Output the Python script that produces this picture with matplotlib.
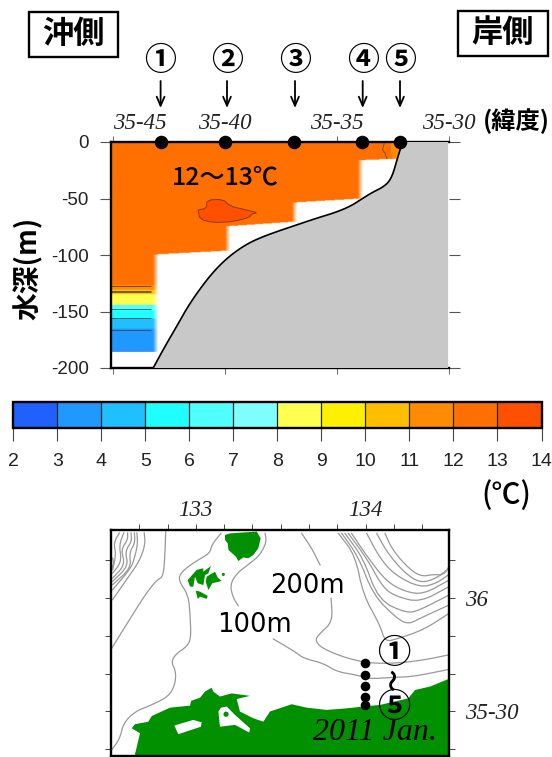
import numpy as np
import matplotlib
matplotlib.use("Agg")
import matplotlib.pyplot as plt
from matplotlib.colors import ListedColormap, BoundaryNorm
from matplotlib.colorbar import ColorbarBase
from matplotlib.patches import Rectangle

plt.rcParams['font.family'] = ['Liberation Sans', 'Noto Sans CJK JP', 'DejaVu Sans']
CJK = ['Noto Sans CJK JP', 'DejaVu Sans']
W, H = 552, 757

# ---------- colour scale ----------
temp_bounds = list(range(2, 15))
temp_colors = ['#2060FF', '#2099FF', '#20BFFF', '#20FFFF', '#50FFFF', '#80FFFF',
               '#FFFF50', '#FFF000', '#FFBF00', '#FF8C00', '#FF7000', '#FF5000']

# ---------- section data (latitude minutes north of 35 deg, depth m) ----------
station_lat = [42.86, 40.0, 36.9, 33.9, 32.2]
station_names = ['①', '②', '③', '④', '⑤']
section_ticks = [45, 40, 35, 30]
section_ticklabels = ['35-45', '35-40', '35-35', '35-30']
depth_ticks = [0, -50, -100, -150, -200]

bottom_lat = [43.19, 42.67, 42.15, 41.56, 40.81, 40.22, 39.63, 38.96, 38.30, 37.56, 36.81,
              35.93, 35.04, 34.37, 33.85, 33.41, 32.96, 32.67, 32.49, 32.30, 32.07]
bottom_depth = [-200, -181.1, -163.4, -142.8, -122.1, -108.8, -98.5, -89.7, -83.8, -78.5, -73.5,
                -67.6, -62.2, -56.6, -49.9, -44.5, -40.1, -35.1, -27.7, -14.5, 0]

# sampled columns: right edge latitude, sample floor at left and right of the column
column_edge = [42.98, 39.78, 36.8, 33.87, 31.9]
column_floor_left = [-186, -100, -75, -54, -16.6]
column_floor_right = [-186, -96.6, -71, -50.5, -15]

layer_top = [0, -127.5, -131.5, -135.5, -145, -150, -157, -166]
layer_bottom = [-127.5, -131.5, -135.5, -145, -150, -157, -166, -186]
layer_temp = [12.5, 11.5, 10.5, 8.5, 6.5, 5.5, 4.5, 3.5]
thermo_lines = [-127.5, -131.5, -133, -148, -156, -166]

warm_lat = [41.19, 40.81, 40.79, 40.07, 39.78, 39.04, 38.52, 38.81, 38.89, 39.63, 40.52, 41.11]
warm_depth = [-60.2, -58.7, -51.3, -50.7, -56.6, -60.2, -62.5, -63.7, -66.7, -70.5, -71.4, -68.4]
coast_patch_lat = [32.6, 32.55, 32.3, 32.15]
coast_patch_depth = [-1, -14.5, -14.5, -1]
coast_iso_lat = [32.89, 32.96, 32.85, 32.77]
coast_iso_depth = [-1, -7, -10, -14.5]

# ---------- map data (lon, lat) ----------
land_lon = [132.638, 132.671, 132.622, 132.641, 132.720, 132.740, 132.848, 132.966, 132.972, 133.025,
            133.054, 133.093, 133.103, 133.142, 133.211, 133.319, 133.241, 133.260, 133.339, 133.398,
            133.437, 133.565, 133.653, 133.771, 133.889, 133.987, 134.085, 134.252, 134.292, 134.380,
            134.50, 134.50]
land_lat = [35.30, 35.403, 35.425, 35.443, 35.454, 35.479, 35.516, 35.525, 35.546, 35.560,
            35.587, 35.604, 35.587, 35.565, 35.579, 35.568, 35.554, 35.499, 35.469, 35.454,
            35.499, 35.531, 35.516, 35.506, 35.513, 35.521, 35.528, 35.557, 35.594, 35.609,
            35.646, 35.30]
lake1_lon = [132.873, 132.985, 133.034, 133.030, 132.897]
lake1_lat = [35.437, 35.462, 35.451, 35.432, 35.399]
lake2_lon = [133.133, 133.148, 133.182, 133.231, 133.319, 133.315, 133.231, 133.142]
lake2_lat = [35.499, 35.516, 35.521, 35.484, 35.425, 35.406, 35.440, 35.432]
islet_lon = [133.178, 133.162]
islet_lat = [35.487, 36.104]
oki1_lon = [133.172, 133.201, 133.359, 133.382, 133.368, 133.339, 133.309, 133.280, 133.250, 133.237, 133.192, 133.188, 133.172]
oki1_lat = [36.278, 36.285, 36.293, 36.263, 36.219, 36.190, 36.175, 36.179, 36.163, 36.182, 36.212, 36.241, 36.256]
oki2_lon = [132.952, 133.005, 133.044, 133.044, 133.089, 133.074, 133.054, 133.044, 133.011, 132.995, 132.985, 132.966]
oki2_lat = [36.079, 36.124, 36.131, 36.116, 36.141, 36.109, 36.101, 36.057, 36.065, 36.094, 36.050, 36.050]
oki3_lon = [133.064, 133.113, 133.129, 133.152, 133.097, 133.074, 133.058]
oki3_lat = [36.094, 36.116, 36.090, 36.075, 36.065, 36.035, 36.072]
oki4_lon = [132.999, 133.025, 133.070, 133.064, 133.025, 133.011]
oki4_lat = [36.032, 36.028, 36.009, 35.996, 36.006, 35.996]

iso_a = ([132.822, 132.818, 132.808, 132.769, 132.700, 132.602, 132.504],
         [36.293, 36.190, 36.094, 36.079, 36.013, 35.896, 35.778])
iso_b = ([133.148, 133.093, 133.083, 132.995, 132.916, 132.896, 132.956, 132.966, 132.972, 132.946, 132.887,
          132.854, 132.883, 132.877, 132.838, 132.740, 132.641, 132.573, 132.553, 132.504],
         [36.285, 36.234, 36.197, 36.160, 36.116, 36.079, 36.013, 35.925, 35.822, 35.785, 35.756,
          35.719, 35.675, 35.616, 35.565, 35.528, 35.499, 35.447, 35.381, 35.329])
iso_c1 = ([133.408, 133.417, 133.378, 133.319, 133.241, 133.201, 133.221, 133.250],
          [36.285, 36.248, 36.190, 36.153, 36.109, 36.057, 35.999, 35.966])
iso_c2 = ([133.457, 133.584, 133.634, 133.751, 133.830, 133.948, 134.026, 134.144, 134.282, 134.492],
          [35.819, 35.763, 35.734, 35.712, 35.675, 35.660, 35.643, 35.649, 35.653, 35.685])
iso_d1 = ([133.624, 133.683, 133.732], [36.285, 36.219, 36.146])
iso_d2 = ([133.797, 133.806, 133.732, 133.702, 133.742, 133.889, 134.026, 134.184, 134.341, 134.492],
          [35.999, 35.896, 35.844, 35.815, 35.778, 35.734, 35.712, 35.712, 35.726, 35.749])
iso_l1 = ([133.840, 133.938, 133.987, 134.085, 134.115, 134.184, 134.341, 134.492],
          [36.285, 36.190, 36.013, 35.881, 35.807, 35.819, 35.859, 35.932])
iso_l2 = ([133.860, 133.958, 134.046, 134.184, 134.252, 134.321, 134.492],
          [36.285, 36.182, 36.013, 35.910, 35.884, 35.910, 35.969])
iso_l3 = ([133.879, 133.987, 134.076, 134.243, 134.321, 134.492],
          [36.285, 36.175, 35.991, 35.932, 35.947, 36.013])
iso_l4 = ([133.899, 134.007, 134.105, 134.184, 134.321, 134.492],
          [36.285, 36.175, 36.043, 36.006, 35.981, 36.050])
iso_l5 = ([133.918, 134.017, 134.125, 134.233, 134.341, 134.492],
          [36.285, 36.175, 36.072, 36.028, 36.016, 36.079])
iso_l6 = ([134.007, 134.085, 134.174, 134.321, 134.419, 134.492],
          [36.285, 36.175, 36.101, 36.046, 36.065, 36.104])
iso_l7 = ([134.066, 134.125, 134.223, 134.321, 134.419, 134.492],
          [36.285, 36.204, 36.116, 36.065, 36.087, 36.131])
iso_l8 = ([134.115, 134.154, 134.233, 134.321, 134.400, 134.459, 134.492],
          [36.285, 36.219, 36.146, 36.094, 36.104, 36.101, 36.138])
iso_w1 = ([132.696, 132.702, 132.667, 132.598, 132.510], [36.287, 36.235, 36.162, 36.088, 35.993])
iso_w2 = ([132.653, 132.657, 132.638, 132.618, 132.510], [36.287, 36.235, 36.176, 36.132, 36.037])
iso_w3 = ([132.638, 132.641, 132.608, 132.618, 132.510], [36.287, 36.243, 36.199, 36.132, 36.059])
iso_w4 = ([132.618, 132.622, 132.583, 132.602, 132.510], [36.287, 36.250, 36.206, 36.140, 36.074])
iso_w5 = ([132.598, 132.598, 132.559, 132.583, 132.510], [36.287, 36.257, 36.213, 36.147, 36.088])
iso_w6 = ([132.575, 132.549, 132.559, 132.549, 132.510], [36.287, 36.235, 36.176, 36.147, 36.110])
iso_w7 = ([132.549, 132.516, 132.529, 132.510], [36.287, 36.243, 36.191, 36.125])
iso_w8 = ([132.510, 132.516, 132.506], [36.176, 36.154, 36.132])
isobaths = [iso_a, iso_b, iso_c1, iso_c2, iso_d1, iso_d2, iso_l1, iso_l2, iso_l3, iso_l4, iso_l5, iso_l6,
            iso_l7, iso_l8, iso_w1, iso_w2, iso_w3, iso_w4, iso_w5, iso_w6, iso_w7, iso_w8]

map_station_lon = [133.995] * 5
map_station_lat = [35.712, 35.660, 35.612, 35.562, 35.528]
map_lon_ticks = [132.6667 + i / 6 for i in range(11)]
map_lat_ticks = [35.3333 + i / 6 for i in range(6)]

# ---------- helpers ----------
def axes_px(left, top, right, bottom, **kw):
    return fig.add_axes([left / W, 1 - bottom / H, (right - left) / W, (bottom - top) / H], **kw)

def rounded(xs, ys, passes=2):
    p = np.column_stack([xs, ys])
    for _ in range(passes):
        q = 0.75 * p[:-1] + 0.25 * p[1:]
        r = 0.25 * p[:-1] + 0.75 * p[1:]
        mid = np.empty((2 * len(q), 2))
        mid[0::2] = q
        mid[1::2] = r
        p = np.vstack([p[0], mid, p[-1]])
    return p[:, 0], p[:, 1]

fig = plt.figure(figsize=(W / 100, H / 100), dpi=100)
cmap = ListedColormap(temp_colors)
norm = BoundaryNorm(temp_bounds, cmap.N)
INK = '#222222'
GREEN = '#009000'

# ---------- section ----------
ax = axes_px(111, 142, 449, 368)
ax.set_xlim(45.07, 30.04)
ax.set_ylim(-200, 0)

lat_grid = np.arange(45.07, 31.9, -0.02)
dep_grid = np.arange(0, -200, -0.5)
LON, DEP = np.meshgrid(lat_grid, dep_grid)
rgba = np.ones(LON.shape + (4,))
base = np.zeros(LON.shape)
for top_d, bot_d, t in zip(layer_top, layer_bottom, layer_temp):
    base[(DEP <= top_d) & (DEP > bot_d)] = t
rgba[..., :3] = cmap(norm(base))[..., :3]
alpha = np.zeros(LON.shape)
fade = 0.22
left = 45.07
for edge, fl, fr in zip(column_edge, column_floor_left, column_floor_right):
    floor = fl + (fr - fl) * (left - LON) / (left - edge)
    a = np.clip((LON - edge) / fade, 0, 1)
    a[LON > left + fade] = 0
    a[DEP < floor] = 0
    alpha = np.maximum(alpha, a)
    left = edge
rgba[..., 3] = alpha
ax.imshow(rgba, extent=[lat_grid[0], lat_grid[-1], dep_grid[-1], dep_grid[0]], origin='upper',
          aspect='auto', interpolation='bilinear', zorder=1)
ax.set_xlim(45.07, 30.04)
ax.set_ylim(-200, 0)

ax.hlines(thermo_lines, 45.07, 43.3, color='#333333', lw=0.7, alpha=0.7, zorder=2)
ax.fill(*rounded(warm_lat + warm_lat[:1], warm_depth + warm_depth[:1], 1),
        facecolor=cmap(norm(13.5)), edgecolor='#8a3a10', lw=0.7, zorder=2)
ax.fill(coast_patch_lat, coast_patch_depth, facecolor=cmap(norm(11.5)), edgecolor='none', zorder=2)
ax.plot(coast_iso_lat, coast_iso_depth, color='#8a4a10', lw=0.7, zorder=2)

line_lat, line_dep = rounded(bottom_lat, bottom_depth)
ax.fill(list(line_lat) + [30.04, 30.04], list(line_dep) + [0, -200], facecolor='#C8C8C8', edgecolor='none', zorder=3)
ax.plot(line_lat, line_dep, color='black', lw=1.2, zorder=4)
ax.scatter(station_lat, [0] * 5, s=95, color='black', zorder=6, clip_on=False, linewidths=0)

ax.spines['right'].set_visible(False)
for s in ('left', 'top', 'bottom'):
    ax.spines[s].set_linewidth(1.7)
ax.set_xticks(section_ticks)
ax.set_xticklabels(section_ticklabels, family='Liberation Serif', style='italic', fontsize=16.5, color=INK)
ax.tick_params(axis='x', which='both', top=True, bottom=True, labeltop=True, labelbottom=False,
               length=4.5, width=0.6, color='#555555', pad=1.5)
ax.xaxis.get_major_ticks()[0].label2.set_ha('left')
ax.set_yticks(depth_ticks)
ax.set_yticklabels([str(d) for d in depth_ticks], fontsize=13.5, color=INK)
ax.tick_params(axis='y', which='both', left=True, right=True, length=8, width=0.8, color='#555555', pad=8)

# ---------- colour bar ----------
cax = axes_px(13.4, 401.7, 541.5, 428.3)
cb = ColorbarBase(cax, cmap=cmap, norm=norm, orientation='horizontal', ticks=temp_bounds,
                  spacing='proportional', drawedges=True)
cb.outline.set_linewidth(1.7)
cb.dividers.set_linewidth(0.9)
cb.dividers.set_color('#222222')
cax.tick_params(axis='x', length=9, width=0.8, color='#444444', labelsize=14, labelcolor=INK, pad=9)

# ---------- map ----------
mp = axes_px(111, 530, 449, 755.7)
mp.set_xlim(132.5, 134.492)
mp.set_ylim(35.304, 36.30)
for lon, lat in isobaths:
    mp.plot(*rounded(lon, lat), color='#999999', lw=0.9, zorder=1)
for lon, lat in [(land_lon, land_lat), (oki1_lon, oki1_lat), (oki2_lon, oki2_lat),
                 (oki3_lon, oki3_lat), (oki4_lon, oki4_lat)]:
    mp.fill(lon, lat, color=GREEN, lw=0, zorder=2)
for lon, lat in [(lake1_lon, lake1_lat), (lake2_lon, lake2_lat)]:
    mp.fill(lon, lat, color='white', lw=0, zorder=3)
mp.scatter(islet_lon, islet_lat, s=[14, 5], color=GREEN, linewidths=0, zorder=4)
mp.scatter(map_station_lon, map_station_lat, s=48, color='black', linewidths=0, zorder=5)
for s in mp.spines.values():
    s.set_linewidth(1.7)
mp.set_xticks(map_lon_ticks)
mp.set_xticklabels(['133' if abs(v - 133) < .01 else '134' if abs(v - 134) < .01 else '' for v in map_lon_ticks],
                   family='Liberation Serif', style='italic', fontsize=16.5, color=INK)
mp.tick_params(axis='x', top=True, bottom=False, labeltop=True, labelbottom=False, length=4.5, width=0.7,
               color='#444444', pad=2)
mp.set_yticks(map_lat_ticks)
mp.set_yticklabels(['36' if abs(v - 36) < .01 else '35-30' if abs(v - 35.5) < .01 else '' for v in map_lat_ticks],
                   family='Liberation Serif', style='italic', fontsize=16.5, color=INK)
mp.tick_params(axis='y', left=True, right=True, labelleft=False, labelright=True, length=4.5, width=0.7,
               color='#444444', pad=7)

# ---------- annotations in figure pixels ----------
ov = fig.add_axes([0, 0, 1, 1], zorder=10)
ov.set_xlim(0, W)
ov.set_ylim(H, 0)
ov.axis('off')
ov.patch.set_alpha(0)

for x0, y0, x1, y1, label in [(29, 11.5, 118, 57, '沖側'), (458, 10.5, 548, 56, '岸側')]:
    ov.add_patch(Rectangle((x0, y0), x1 - x0, y1 - y0, fill=False, ec='black', lw=1.7))
    ov.text((x0 + x1) / 2, (y0 + y1) / 2 - 0.5, label, ha='center', va='center', fontsize=22.5,
            family=CJK, weight='bold', color='black')

for px, name in zip([160.6, 227, 295, 362.7, 400], station_names):
    ov.text(px, 61, name, ha='center', va='center', fontsize=23, family=CJK, weight='bold', color='black')
    ov.annotate('', xy=(px, 108), xytext=(px, 81),
                arrowprops=dict(arrowstyle='->,head_width=0.28,head_length=0.65', color='black', lw=1.3,
                                shrinkA=0, shrinkB=0))

ov.text(483, 121, '(緯度)', ha='left', va='center', fontsize=17.5, family=CJK, weight='bold', color='black',
        clip_on=True)
ov.text(28, 268, '水深(m)', rotation=90, ha='center', va='center', fontsize=20, family=CJK, weight='bold',
        color='black')
ov.text(225.5, 177, '12〜13℃', ha='center', va='center', fontsize=18, family=CJK, weight='medium', color='black')
ov.text(506, 495, '(℃)', ha='center', va='center', fontsize=21, family=CJK, weight='medium', color='black')
ov.text(307, 586, '200m', ha='center', va='center', fontsize=18.5, family='DejaVu Sans', color='black')
ov.text(254.5, 625, '100m', ha='center', va='center', fontsize=18.5, family='DejaVu Sans', color='black')
ov.text(394, 654, '①', ha='center', va='center', fontsize=24, family=CJK, weight='bold', color='black')
ov.text(394, 708, '⑤', ha='center', va='center', fontsize=24, family=CJK, weight='bold', color='black')
ov.text(395, 680, '〜', rotation=90, ha='center', va='center', fontsize=16, family=CJK, weight='bold', color='black')
ov.text(375, 733, '2011 Jan.', ha='center', va='center', fontsize=23, family='Liberation Serif', style='italic',
        color='black')

fig.savefig('out.png', dpi=100)
